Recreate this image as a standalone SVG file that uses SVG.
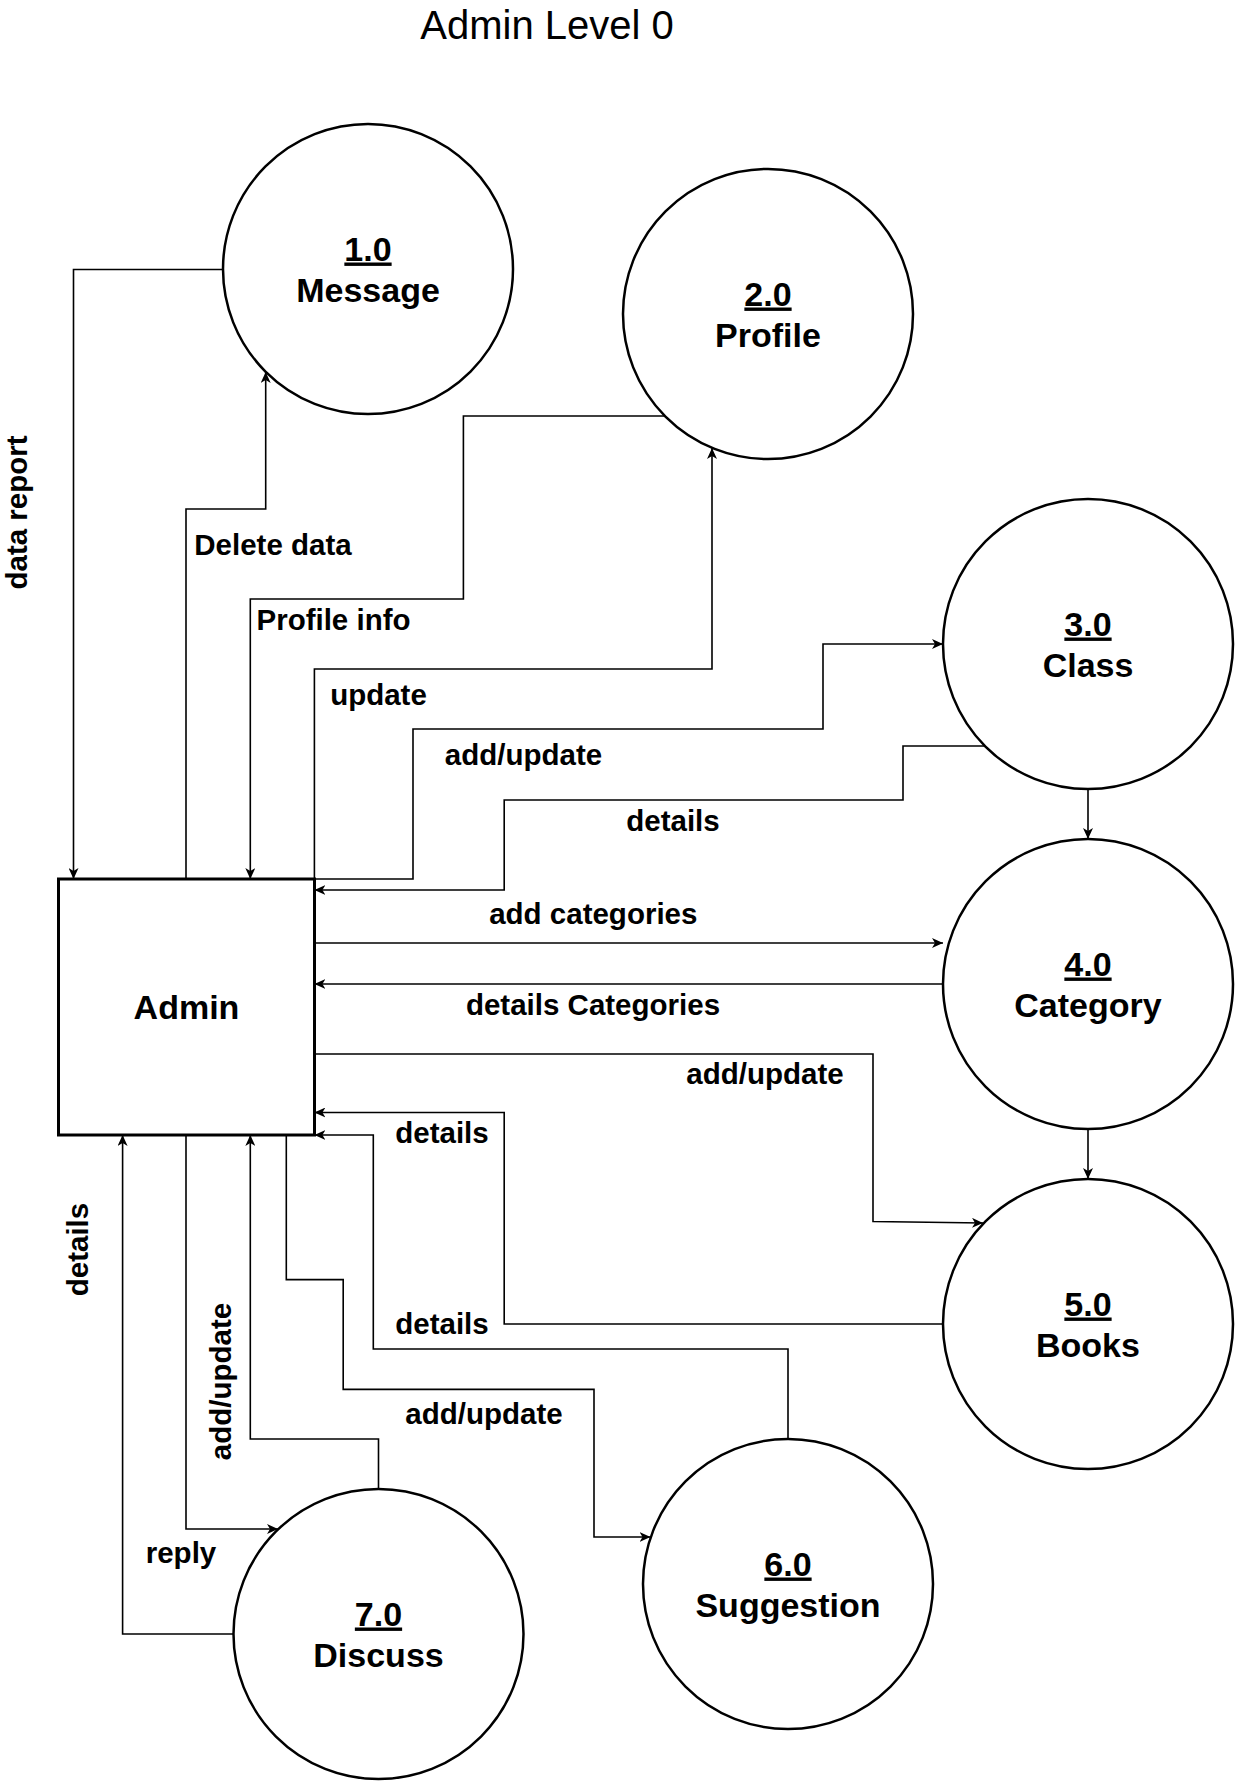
<svg xmlns="http://www.w3.org/2000/svg" width="1235" height="1781" viewBox="0 0 1235 1781">
<defs>
<style>
.bg{fill:#fff}
.proc{fill:#fff;stroke:#000;stroke-width:2.5}
.ent{fill:#fff;stroke:#000;stroke-width:3}
.con{fill:none;stroke:#000;stroke-width:1.6}
.arr{marker-end:url(#ah)}
.nt{font-family:"Liberation Sans",Arial,sans-serif;font-weight:bold;font-size:34px;text-anchor:middle;fill:#000}
.num{text-decoration:underline}
.lb{font-family:"Liberation Sans",Arial,sans-serif;font-weight:bold;font-size:29.5px;text-anchor:middle;fill:#000}
.title{font-family:"Liberation Sans",Arial,sans-serif;font-size:40px;text-anchor:middle;fill:#000}
</style>
<marker id="ah" viewBox="0 0 12 10" refX="11" refY="5" markerWidth="12" markerHeight="10" markerUnits="userSpaceOnUse" orient="auto">
<path d="M0,0 L11,5 L0,10 L3,5 Z" fill="#000"/>
</marker>
</defs>
<rect class="bg" x="0" y="0" width="1235" height="1781"/>
<text class="title" x="547" y="39">Admin Level 0</text>

<g id="connectors">
<path class="con arr" d="M223,269.5 H73.5 V879"/>
<path class="con arr" d="M186,879 V509 H265.7 V372"/>
<path class="con arr" d="M665,416 H463.4 V599 H250.3 V879"/>
<path class="con arr" d="M314.4,879 V669 H712 V448"/>
<path class="con arr" d="M314.4,879 H413 V729 H823 V644 H943"/>
<path class="con arr" d="M985,746 H903 V800 H504.2 V890 H314.4"/>
<path class="con arr" d="M1088,789 V839"/>
<path class="con arr" d="M314.4,943 H943"/>
<path class="con arr" d="M943,984 H314.4"/>
<path class="con arr" d="M314.4,1054 H873 V1221.5 L983,1223"/>
<path class="con arr" d="M1088,1129 V1179"/>
<path class="con arr" d="M943,1324 H504.2 V1112.5 H314.4"/>
<path class="con arr" d="M788,1439 V1349 H373.3 V1135 H314.4"/>
<path class="con arr" d="M286.3,1135 V1279.6 H343.2 V1389.4 H594 V1537 H650.5"/>
<path class="con arr" d="M186,1135 V1529 H278"/>
<path class="con arr" d="M378.5,1489 V1439 H250.3 V1135"/>
<path class="con arr" d="M233.5,1634 H122.6 V1135"/>

<text class="lb" x="273" y="555">Delete data</text>
<text class="lb" x="333.5" y="630">Profile info</text>
<text class="lb" x="378.5" y="704.5">update</text>
<text class="lb" x="523.5" y="764.5">add/update</text>
<text class="lb" x="673" y="831">details</text>
<text class="lb" x="593.3" y="924.3">add categories</text>
<text class="lb" x="593" y="1015">details Categories</text>
<text class="lb" x="765" y="1083.5">add/update</text>
<text class="lb" x="442" y="1143">details</text>
<text class="lb" x="442" y="1334">details</text>
<text class="lb" x="484" y="1424">add/update</text>
<text class="lb" x="181" y="1563">reply</text>
<text class="lb" transform="translate(27,512.5) rotate(-90)">data report</text>
<text class="lb" transform="translate(88,1249.5) rotate(-90)">details</text>
<text class="lb" transform="translate(231,1381.5) rotate(-90)">add/update</text>
</g>

<g id="admin">
<rect class="ent" x="58.5" y="879" width="256" height="256"/>
<text class="nt" x="186.5" y="1019">Admin</text>
</g>
<g id="p1">
<circle class="proc" cx="368" cy="269" r="145"/>
<text class="nt num" x="368" y="260.5">1.0</text>
<text class="nt" x="368" y="301.5">Message</text>
</g>
<g id="p2">
<circle class="proc" cx="768" cy="314" r="145"/>
<text class="nt num" x="768" y="305.5">2.0</text>
<text class="nt" x="768" y="346.5">Profile</text>
</g>
<g id="p3">
<circle class="proc" cx="1088" cy="644" r="145"/>
<text class="nt num" x="1088" y="635.5">3.0</text>
<text class="nt" x="1088" y="676.5">Class</text>
</g>
<g id="p4">
<circle class="proc" cx="1088" cy="984" r="145"/>
<text class="nt num" x="1088" y="975.5">4.0</text>
<text class="nt" x="1088" y="1016.5">Category</text>
</g>
<g id="p5">
<circle class="proc" cx="1088" cy="1324" r="145"/>
<text class="nt num" x="1088" y="1315.5">5.0</text>
<text class="nt" x="1088" y="1356.5">Books</text>
</g>
<g id="p6">
<circle class="proc" cx="788" cy="1584" r="145"/>
<text class="nt num" x="788" y="1575.5">6.0</text>
<text class="nt" x="788" y="1616.5">Suggestion</text>
</g>
<g id="p7">
<circle class="proc" cx="378.5" cy="1634" r="145"/>
<text class="nt num" x="378.5" y="1625.5">7.0</text>
<text class="nt" x="378.5" y="1666.5">Discuss</text>
</g>
</svg>
